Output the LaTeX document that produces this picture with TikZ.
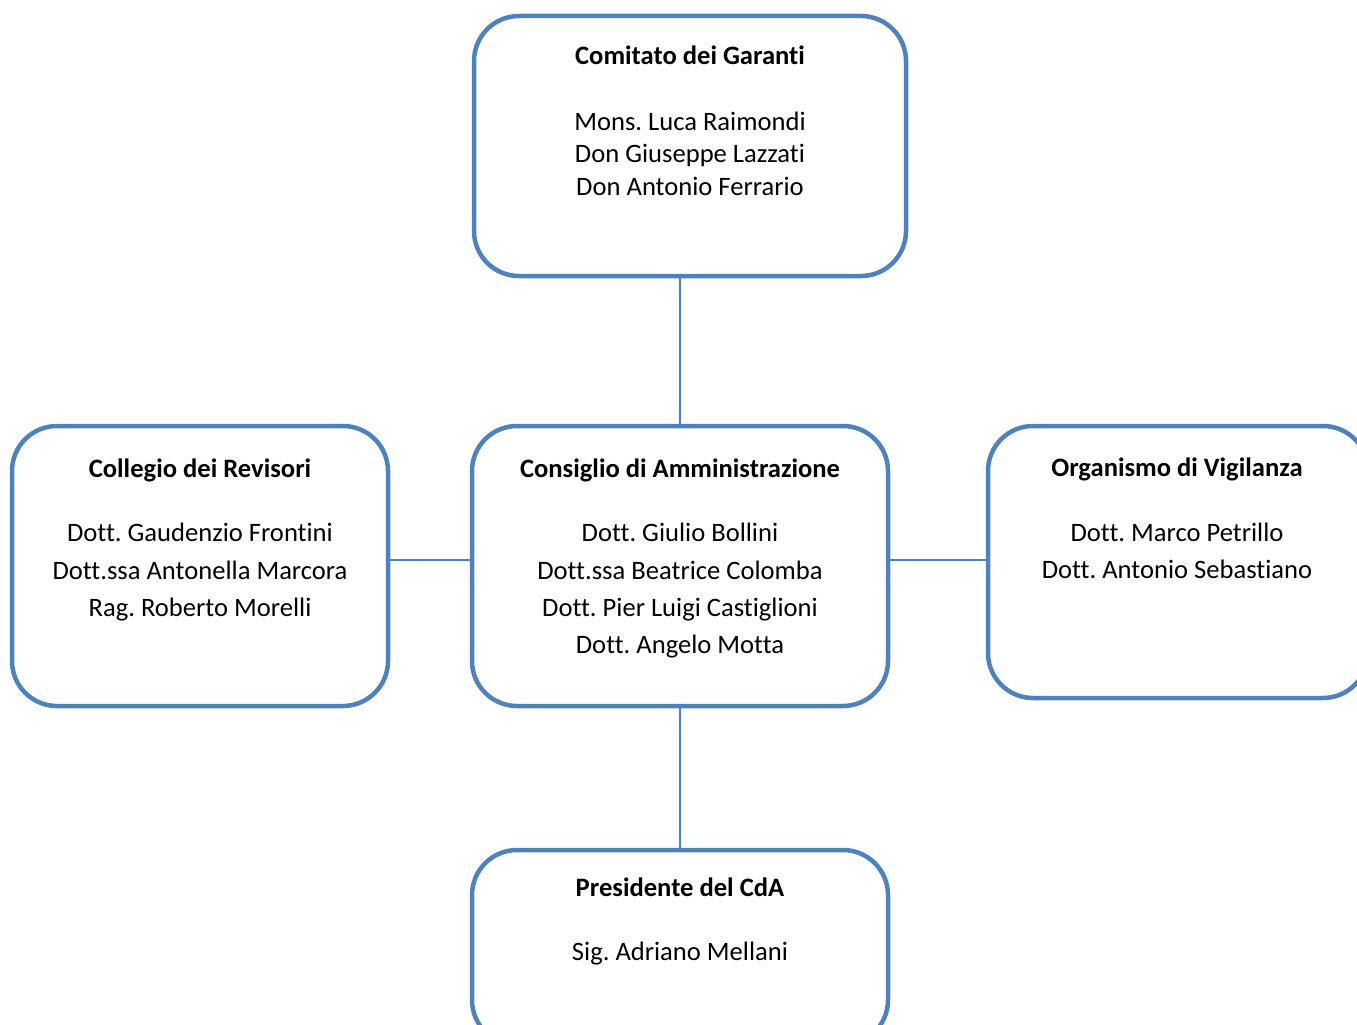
\documentclass[tikz,border=0pt]{standalone}
\usepackage{fontspec}
\setmainfont{Carlito}[Ligatures={NoCommon}]
\definecolor{boxblue}{HTML}{4F81BD}
\frenchspacing
\begin{document}
\begin{tikzpicture}[x=1pt,y=-1pt,
  orgbox/.style={draw=boxblue,line width=4.5pt,rounded corners=45pt,fill=white},
  conn/.style={draw=boxblue,line width=1.6pt},
  ttl/.style={anchor=base,inner sep=0pt,font=\fontsize{26.6}{30}\selectfont\bfseries},
  nm/.style={anchor=base,inner sep=0pt,font=\fontsize{26.6}{30}\selectfont}]
\useasboundingbox (0,0) rectangle (1357,1025);
\clip (0,0) rectangle (1357,1025);
% boxes
\path[orgbox] (474,16) rectangle (906,276);
\path[orgbox] (472,426) rectangle (888,706);
\path[orgbox] (12,426) rectangle (388,706);
\path[orgbox] (988,426) rectangle (1368,698);
\path[orgbox] (472,850) rectangle (888,1045);
% anchor points for connectors
\coordinate (topS) at (680,276);
\coordinate (cdaN) at (680,426);
\coordinate (cdaS) at (680,706);
\coordinate (cdaW) at (472,560);
\coordinate (cdaE) at (888,560);
\coordinate (colE) at (388,560);
\coordinate (orgW) at (988,560);
\coordinate (preN) at (680,850);
\draw[conn] (topS) -- (cdaN);
\draw[conn] (cdaS) -- (preN);
\draw[conn] (colE) -- (cdaW);
\draw[conn] (cdaE) -- (orgW);
% top box
\node[ttl] (t0) at (690,65) {Comitato dei Garanti};
\node[nm] (t1) at (690,130) {Mons. Luca Raimondi};
\node[nm] (t2) at (690,162) {Don Giuseppe Lazzati};
\node[nm] (t3) at (690,195) {Don Antonio Ferrario};
% center box
\node[ttl] (c0) at (680,477) {Consiglio di Amministrazione};
\node[nm] (c1) at (680,541) {Dott. Giulio Bollini};
\node[nm] (c2) at (680,579) {Dott.ssa Beatrice Colomba};
\node[nm] (c3) at (680,616) {Dott. Pier Luigi Castiglioni};
\node[nm] (c4) at (680,653) {Dott. Angelo Motta};
% left box
\node[ttl] (l0) at (200,477) {Collegio dei Revisori};
\node[nm] (l1) at (200,541) {Dott. Gaudenzio Frontini};
\node[nm] (l2) at (200,579) {Dott.ssa Antonella Marcora};
\node[nm] (l3) at (200,616) {Rag. Roberto Morelli};
% right box
\node[ttl] (r0) at (1177,476) {Organismo di Vigilanza};
\node[nm] (r1) at (1177,541) {Dott. Marco Petrillo};
\node[nm] (r2) at (1177,578) {Dott. Antonio Sebastiano};
% bottom box
\node[ttl] (b0) at (680,896) {Presidente del CdA};
\node[nm] (b1) at (680,960) {Sig. Adriano Mellani};
\end{tikzpicture}
\end{document}
